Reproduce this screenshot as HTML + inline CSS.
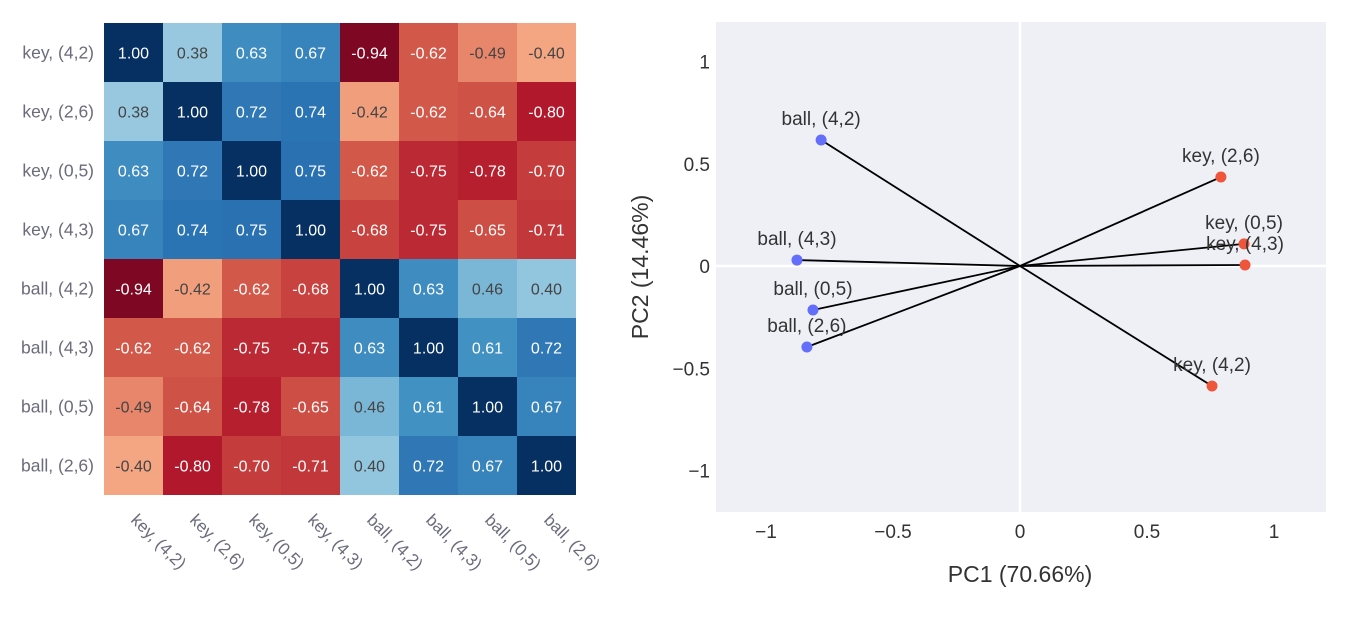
<!DOCTYPE html>
<html><head><meta charset="utf-8"><style>
body{margin:0;background:#fff;width:1350px;height:642px;overflow:hidden;font-family:"Liberation Sans",sans-serif}
svg{position:absolute;left:0;top:0}
</style></head><body>
<svg id="s" width="1350" height="642"></svg>
<script>
const labels=["key, (4,2)","key, (2,6)","key, (0,5)","key, (4,3)","ball, (4,2)","ball, (4,3)","ball, (0,5)","ball, (2,6)"];
const corr=[
[1.00,0.38,0.63,0.67,-0.94,-0.62,-0.49,-0.40],
[0.38,1.00,0.72,0.74,-0.42,-0.62,-0.64,-0.80],
[0.63,0.72,1.00,0.75,-0.62,-0.75,-0.78,-0.70],
[0.67,0.74,0.75,1.00,-0.68,-0.75,-0.65,-0.71],
[-0.94,-0.42,-0.62,-0.68,1.00,0.63,0.46,0.40],
[-0.62,-0.62,-0.75,-0.75,0.63,1.00,0.61,0.72],
[-0.49,-0.64,-0.78,-0.65,0.46,0.61,1.00,0.67],
[-0.40,-0.80,-0.70,-0.71,0.40,0.72,0.67,1.00]];
const pcaNames=["ball, (4,2)","ball, (4,3)","ball, (0,5)","ball, (2,6)","key, (2,6)","key, (0,5)","key, (4,3)","key, (4,2)"];
const pc1=[-0.783,-0.878,-0.815,-0.839,0.791,0.882,0.886,0.756];
const pc2=[0.616,0.029,-0.215,-0.396,0.435,0.108,0.005,-0.587];
const xTicks=[-1,-0.5,0,0.5,1];
const yTicks=[1,0.5,0,-0.5,-1];

const NS="http://www.w3.org/2000/svg",S=document.getElementById('s');
function mk(t,a,p){const e=document.createElementNS(NS,t);for(const k in a)e.setAttribute(k,a[k]);(p||S).appendChild(e);return e;}
const stops=["#67001f","#b2182b","#d6604d","#f4a582","#fddbc7","#f7f7f7","#d1e5f0","#92c5de","#4393c3","#2166ac","#053061"];
function hx(h){return [1,3,5].map(i=>parseInt(h.substr(i,2),16));}
function col(v){let t=(v+1)/2*10;let i=Math.min(9,Math.floor(t)),f=t-i;const a=hx(stops[i]),b=hx(stops[i+1]);return "rgb("+a.map((c,k)=>Math.round(c+(b[k]-c)*f)).join(",")+")";}
const hx0=104,hy0=23,cs=59;
const hm=mk('g',{});

corr.forEach((row,r)=>row.forEach((v,c)=>{
 const rc=mk('rect',{x:hx0+c*cs,y:hy0+r*cs,width:cs,height:cs,fill:col(v)},hm);
 
 const t=mk('text',{x:hx0+c*cs+cs/2,y:hy0+r*cs+cs/2+6,'text-anchor':'middle','font-size':16,fill:Math.abs(v)>0.5?'#fff':'#444'},hm);
 t.textContent=v.toFixed(2);
 
}));
labels.forEach((l,i)=>{
 const t=mk('text',{x:94,y:hy0+i*cs+cs/2+6,'text-anchor':'end','font-size':17.5,fill:'#6b6b7b'});t.textContent=l;
 
 const x=hx0+i*cs+26,y=521;
 const u=mk('text',{x:x,y:y,'font-size':17,fill:'#6b6b7b',transform:`rotate(45 ${x} ${y})`});u.textContent=l;
 
});
const px0=716,px1=1326,py0=22,py1=512;
const X=v=>1020+v*254,Y=v=>266-v*204.5;
const bg=mk('rect',{x:px0,y:py0,width:px1-px0,height:py1-py0,fill:'#eff0f5'});

const TC='#333';
xTicks.forEach(v=>{if(v==0){const l=mk('line',{x1:X(v),x2:X(v),y1:py0,y2:py1,stroke:'#fff','stroke-width':2.5});}
 const t=mk('text',{x:X(v),y:538,'text-anchor':'middle','font-size':19,fill:TC});t.textContent=v==0?'0':String(v).replace('-','−');});
yTicks.forEach(v=>{if(v==0){const l=mk('line',{x1:px0,x2:px1,y1:Y(v),y2:Y(v),stroke:'#fff','stroke-width':2.5});}
 const t=mk('text',{x:710,y:Y(v)+7,'text-anchor':'end','font-size':19,fill:TC});t.textContent=v==0?'0':String(v).replace('-','−');});
pc1.forEach((v,i)=>{
 const l=mk('line',{x1:X(0),y1:Y(0),x2:X(v),y2:Y(pc2[i]),stroke:'#000','stroke-width':1.8});
 
 const c=mk('circle',{cx:X(v),cy:Y(pc2[i]),r:5.5,fill:v<0?'#636efa':'#ef553b'});
 
 const t=mk('text',{x:X(v),y:Y(pc2[i])-15,'text-anchor':'middle','font-size':19,fill:TC});t.textContent=pcaNames[i];
 
});
const xt=mk('text',{x:1020,y:582,'text-anchor':'middle','font-size':23,fill:TC});xt.textContent='PC1 (70.66%)';

const yt=mk('text',{x:648,y:267,'text-anchor':'middle','font-size':23,fill:TC,transform:'rotate(-90 648 267)'});yt.textContent='PC2 (14.46%)';

</script>
</body></html>
